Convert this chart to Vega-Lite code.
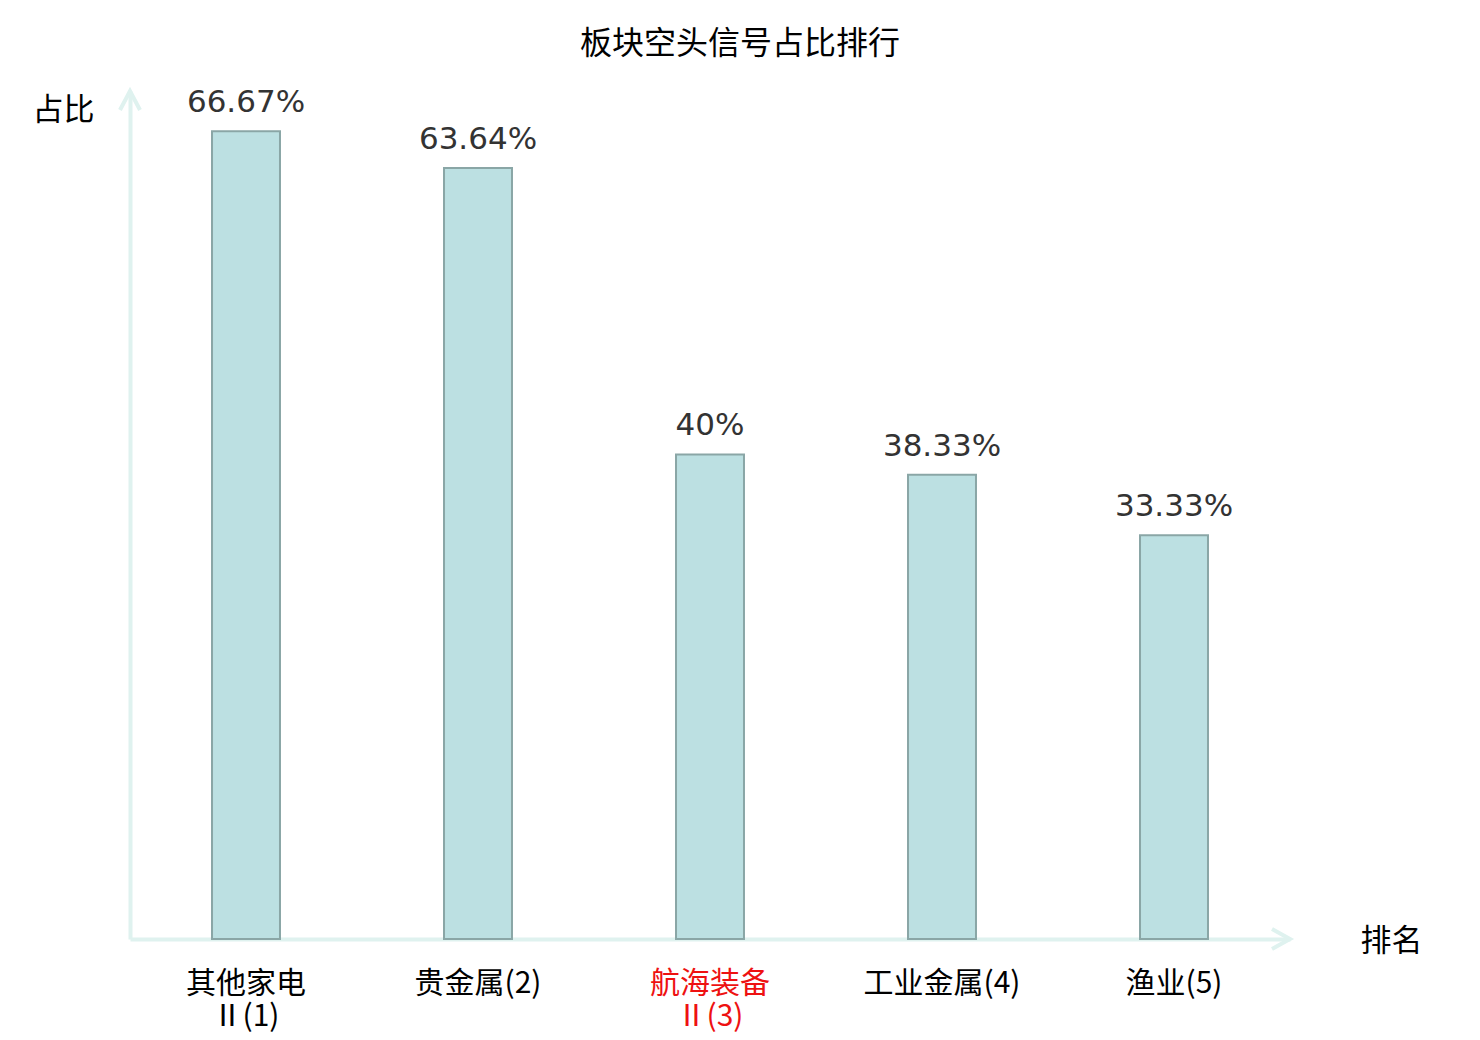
{
  "$schema": "https://vega.github.io/schema/vega-lite/v6.json",
  "width": 1160,
  "height": 848,
  "autosize": {"type": "none"},
  "padding": {"left": 130, "top": 91, "right": 190, "bottom": 101},
  "background": "white",
  "title": {
    "text": "板块空头信号占比排行",
    "font": "Noto Sans CJK SC",
    "fontSize": 32,
    "fontWeight": "normal",
    "color": "#000000",
    "anchor": "middle",
    "offset": 22,
    "dx": 30
  },
  "config": {"view": {"stroke": null}},
  "layer": [
    {
      "data": {"values": [
        {"name": "其他家电|Ⅱ(1)", "value": 66.67, "label": "66.67%"},
        {"name": "贵金属(2)", "value": 63.64, "label": "63.64%"},
        {"name": "航海装备|Ⅱ(3)", "value": 40, "label": "40%"},
        {"name": "工业金属(4)", "value": 38.33, "label": "38.33%"},
        {"name": "渔业(5)", "value": 33.33, "label": "33.33%"}
      ]},
      "encoding": {
        "x": {
          "field": "name", "type": "nominal", "sort": null,
          "scale": {"paddingInner": 0, "paddingOuter": 0},
          "axis": {
            "title": "排名",
            "titleFont": "Noto Sans CJK SC", "titleFontSize": 31, "titleFontWeight": "normal", "titleColor": "#000000",
            "titleAnchor": null, "titleAlign": "center", "titleBaseline": "middle",
            "titleX": 1261, "titleY": 2,
            "labelExpr": "split(datum.value, '|')",
            "labelAngle": 0,
            "labelFont": "Noto Sans CJK SC", "labelFontSize": 30, "labelLineHeight": 33,
            "labelColor": {"condition": {"test": "datum.value == '航海装备|Ⅱ(3)'", "value": "#ee1111"}, "value": "#000000"},
            "labelBaseline": "top", "labelPadding": 29,
            "ticks": false,
            "domainColor": "#dff2ef", "domainWidth": 4,
            "grid": false
          }
        },
        "y": {
          "field": "value", "type": "quantitative",
          "scale": {"domain": [0, 70], "nice": false},
          "axis": {
            "title": "占比",
            "titleFont": "Noto Sans CJK SC", "titleFontSize": 31, "titleFontWeight": "normal", "titleColor": "#000000",
            "titleAngle": 0, "titleAnchor": null, "titleAlign": "center", "titleBaseline": "middle",
            "titleX": -67, "titleY": 19,
            "labels": false, "ticks": false, "grid": false,
            "domainColor": "#dff2ef", "domainWidth": 4
          }
        }
      },
      "layer": [
        {"mark": {"type": "bar", "width": {"band": 0.293}, "fill": "#bce0e2", "stroke": "#8aa6a6", "strokeWidth": 2}},
        {"mark": {"type": "text", "font": "DejaVu Sans", "fontSize": 31, "color": "#333333", "baseline": "alphabetic", "dy": -19},
         "encoding": {"text": {"field": "label"}}}
      ]
    },
    {
      "data": {"values": [
        {"pos": 0, "value": 70, "dir": "up"},
        {"pos": 1, "value": 0, "dir": "right"}
      ]},
      "mark": {"type": "point", "filled": false, "stroke": "#dff2ef", "strokeWidth": 4, "opacity": 1, "size": 400},
      "encoding": {
        "x": {"field": "pos", "type": "quantitative", "scale": {"domain": [0, 1], "nice": false, "zero": false}, "axis": null},
        "y": {"field": "value", "type": "quantitative"},
        "shape": {
          "field": "dir", "type": "nominal", "legend": null,
          "scale": {"domain": ["up", "right"], "range": ["M-1,1.9L0,0L1,1.9", "M-1.8,-1L0,0L-1.8,1"]}
        }
      }
    }
  ],
  "resolve": {"scale": {"x": "independent"}, "axis": {"x": "independent"}}
}
